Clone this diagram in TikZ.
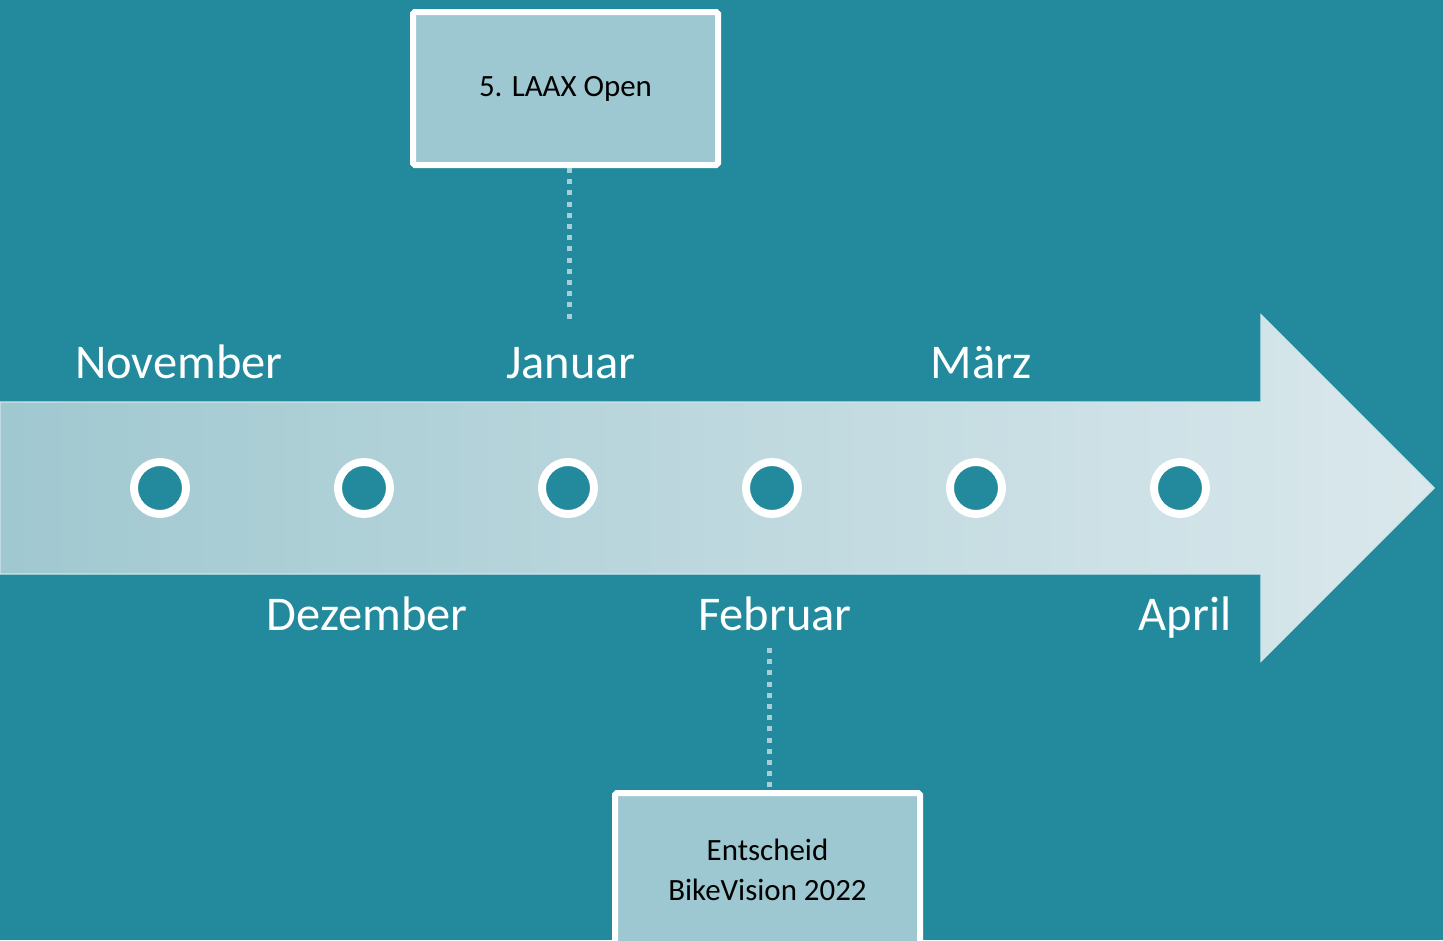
\documentclass[tikz,border=0pt]{standalone}
\usepackage{fontspec}
\setmainfont{Carlito}
\usetikzlibrary{positioning}
\definecolor{teal}{HTML}{228A9C}
\definecolor{boxfill}{HTML}{9EC8D1}
\definecolor{arrowleft}{HTML}{A0C8D0}
\definecolor{arrowright}{HTML}{DAE8EC}
\definecolor{arrowline}{HTML}{CFE5EA}
\definecolor{dotcol}{HTML}{A8CFD7}

\begin{document}
\begin{tikzpicture}[node distance={2.04cm},
    dot/.style = {draw=white, line width=0.08cm, fill=teal, circle, minimum size=0.52cm, inner sep=0pt},
    month/.style = {text=white, anchor=base, font=\fontsize{13.8}{16}\selectfont},
    event/.style = {draw=white, line width=0.06cm, fill=boxfill, rounded corners=0.5pt, minimum width=3.05cm, minimum height=1.53cm, align=center, font=\fontsize{8.8}{11.4}\selectfont},
    dotline/.style = {draw=dotcol, line width=0.05cm, dash pattern=on 0.05cm off 0.062cm}]
    \useasboundingbox (0,0) rectangle (14.43,9.40);
    \fill[teal] (0,0) rectangle (14.43,9.40);

    % arrow
    \shade[left color=arrowleft, right color=arrowright, draw=arrowline, line width=0.4pt]
        (0,5.38) -- (12.61,5.38) -- (12.61,6.25) -- (14.34,4.52) -- (12.61,2.79) -- (12.61,3.66) -- (0,3.66) -- cycle;

    \node[dot] (c1) at (1.60,4.52) {};
    \node[dot] (c2) [right of=c1] {};
    \node[dot] (c3) [right of=c2] {};
    \node[dot] (c4) [right of=c3] {};
    \node[dot] (c5) [right of=c4] {};
    \node[dot] (c6) [right of=c5] {};

    \node[month] (nov) at (1.79,5.62) {November};
    \node[month] (jan) at (5.71,5.62) {Januar};
    \node[month] (mar) at (9.81,5.62) {März};
    \node[month] (dez) at (3.67,3.10) {Dezember};
    \node[month] (feb) at (7.75,3.10) {Februar};
    \node[month] (apr) at (11.85,3.10) {April};

    \node[event] (laax) at (5.655,8.515) {\raisebox{-1.2pt}{5. LAAX Open}};
    \node[event] (bike) at (7.675,0.705) {Entscheid\\BikeVision 2022};

    \coordinate (t1) at (5.69,6.20);
    \coordinate (t2) at (7.69,2.92);
    \draw[dotline] (laax.south -| t1) -- (t1);
    \draw[dotline] (t2) -- (bike.north -| t2);
\end{tikzpicture}
\end{document}
